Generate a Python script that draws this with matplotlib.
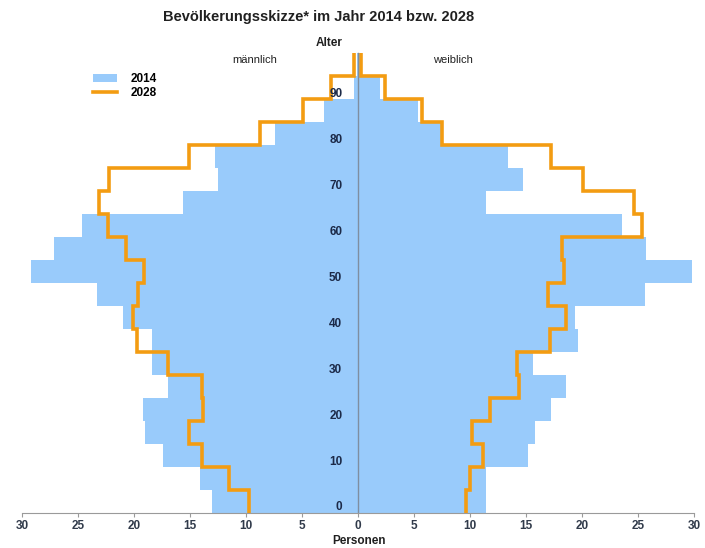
import matplotlib
matplotlib.use("Agg")
import matplotlib.pyplot as plt
import numpy as np

# Age groups (5-year steps, lower edges)
age_edges = list(range(0, 105, 5))  # 0..100
age_ticks = [0, 10, 20, 30, 40, 50, 60, 70, 80, 90]

male_2014 = [13.0, 14.1, 17.4, 19.05, 19.2, 17.0, 18.4, 18.4, 21.0, 23.3,
             29.2, 27.1, 24.6, 15.6, 12.5, 12.8, 7.45, 3.0, 0.35, 0.1]
female_2014 = [11.4, 11.4, 15.2, 15.8, 17.2, 18.6, 15.6, 19.6, 19.4, 25.6,
               29.8, 25.7, 23.6, 11.4, 14.7, 13.4, 7.4, 5.4, 2.0, 0.2]
male_2028 = [9.7, 11.5, 13.9, 15.1, 13.85, 13.95, 17.0, 19.7, 20.1, 19.6,
             19.15, 20.7, 22.3, 23.1, 22.2, 15.1, 8.75, 4.9, 2.4, 0.35]
female_2028 = [9.65, 10.0, 11.2, 10.2, 11.8, 14.4, 14.2, 17.1, 18.6, 17.0,
               18.4, 18.2, 25.4, 24.6, 20.1, 17.2, 7.5, 5.7, 2.4, 0.3]

x_ticks = [-30, -25, -20, -15, -10, -5, 0, 5, 10, 15, 20, 25, 30]

title = "Bevölkerungsskizze* im Jahr 2014 bzw. 2028"

plt.rcParams['font.family'] = ['Liberation Sans', 'DejaVu Sans']

BLUE = '#99cbfb'
ORANGE = '#f39c12'
LABEL = '#1c2a48'

fig = plt.figure(figsize=(7.05, 5.48), dpi=100)
ax = fig.add_axes([22/705, 35/548, 672/705, 469/548])

bottoms = np.array(age_edges[:-1])
h14 = ax.barh(bottoms, -np.array(male_2014), height=5, align='edge', color=BLUE,
              linewidth=0)
ax.barh(bottoms, np.array(female_2014), height=5, align='edge', color=BLUE,
        linewidth=0)

ax.stairs(-np.array(male_2028), age_edges, orientation='horizontal',
          baseline=None, color=ORANGE, linewidth=2.6)
ax.stairs(np.array(female_2028), age_edges, orientation='horizontal',
          baseline=None, color=ORANGE, linewidth=2.6)

ax.plot([0, 0], [0, 100], color='#7f8ea0', linewidth=1.0)

ax.set_xlim(-30, 30)
ax.set_ylim(0, 102)

for s in ['left', 'right', 'top']:
    ax.spines[s].set_visible(False)
ax.spines['bottom'].set_color('#9a9a9a')
ax.set_yticks([])
ax.set_xticks(x_ticks)
ax.set_xticklabels([str(abs(v)) for v in x_ticks], fontsize=8.5,
                   fontweight='bold', color='#303a4a')
ax.tick_params(axis='x', length=3, color='#9a9a9a', pad=2)

for a in age_ticks:
    ax.text(-1.4, a + 1.2, str(a), ha='right', va='center', fontsize=8.5,
            fontweight='bold', color=LABEL)
ax.text(-1.4, 102.3, 'Alter', ha='right', va='center', fontsize=8.5,
        fontweight='bold', color='#202020', clip_on=False)

fig.text(359/705, 1 - 541/548, 'Personen', ha='center', va='center',
         fontsize=8.5, fontweight='bold', color='#202020')
fig.text(255/705, 1 - 60/548, 'männlich', ha='center', va='center',
         fontsize=8, color='#202020')
fig.text(453/705, 1 - 60/548, 'weiblich', ha='center', va='center',
         fontsize=8, color='#202020')
fig.text(319/705, 1 - 17/548, title, ha='center', va='center',
         fontsize=10.5, fontweight='bold', color='#202020')

from matplotlib.patches import Patch
from matplotlib.lines import Line2D
handles = [Patch(facecolor=BLUE, edgecolor='none'),
           Line2D([], [], color=ORANGE, linewidth=2.6)]
leg = ax.legend(handles, ['2014', '2028'], loc='upper left',
                bbox_to_anchor=(71/672, 1 - 29/469),
                frameon=False, prop={'weight': 'bold', 'size': 8.5},
                handlelength=2.0, handleheight=0.6, labelspacing=0.2,
                borderaxespad=0, borderpad=0, handletextpad=1.2)

fig.savefig('out.png', dpi=100)
